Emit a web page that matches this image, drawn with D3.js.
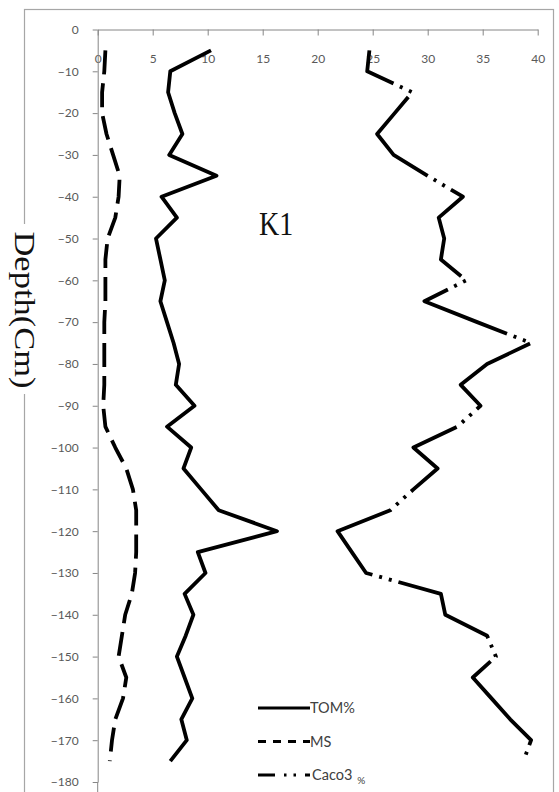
<!DOCTYPE html>
<html>
<head>
<meta charset="utf-8">
<script src="https://cdn.jsdelivr.net/npm/d3@7"></script>
<style>
  body { margin: 0; background: #fff; }
  svg { display: block; }
</style>
</head>
<body>
<svg id="chart"></svg>
<script>
// depth of each sample (cm), shared by all three series
const depths = [-5, -10, -15, -20, -25, -30, -35, -40, -45, -50, -55, -60, -65, -70, -75, -80, -85, -90,
  -95, -100, -105, -110, -115, -120, -125, -130, -135, -140, -145, -150, -155, -160, -165, -170, -175];

const tom = [10.3, 6.6, 6.4, 7.0, 7.7, 6.5, 10.8, 5.8, 7.2, 5.3, 5.7, 6.1, 5.7, 6.3, 6.9, 7.4, 7.1, 8.8,
  6.3, 8.5, 7.8, 9.4, 11.0, 16.3, 9.1, 9.8, 7.9, 8.7, 8.0, 7.2, 7.9, 8.6, 7.6, 8.1, 6.6];

const ms = [0.7, 0.6, 0.4, 0.4, 0.8, 1.4, 2.0, 1.9, 1.6, 0.9, 0.7, 0.7, 0.7, 0.6, 0.6, 0.6, 0.6, 0.5,
  0.7, 1.6, 2.6, 3.2, 3.5, 3.5, 3.5, 3.4, 3.1, 2.5, 2.2, 1.9, 2.6, 2.3, 1.6, 1.3, 1.1];

const caco3 = [24.7, 24.5, 28.6, 27.0, 25.4, 26.9, 30.0, 33.2, 31.0, 31.5, 31.2, 33.5, 29.7, 34.5, 39.4, 35.4, 33.0, 34.8,
  32.7, 28.7, 30.9, 28.7, 26.6, 21.8, 23.1, 24.4, 31.2, 31.6, 35.4, 36.2, 34.1, 35.8, 37.5, 39.4, 38.7];

const xTicks = [0, 5, 10, 15, 20, 25, 30, 35, 40];
const yTicks = [0, -10, -20, -30, -40, -50, -60, -70, -80, -90, -100, -110, -120, -130, -140, -150, -160, -170, -180];

const seriesNames = ["TOM%", "MS", "Caco3"];

const chartSettings = {
  width: 559,
  height: 792,
  axisColor: "#868686",
  labelColor: "#595959",
  lineWidth: 3.8
};

const series = [
  { name: seriesNames[0], values: tom, dash: null, offset: 0, legendDash: null },
  { name: seriesNames[1], values: ms, dash: "24,9", offset: 0, legendDash: "8,7" },
  { name: seriesNames[2], values: caco3, dash: "115,7,3,7,3,7", offset: 65, legendDash: "17,9,2.5,7,2.5,9" }
];

const svg = d3.select("#chart")
  .attr("width", chartSettings.width)
  .attr("height", chartSettings.height);

const x = d3.scaleLinear().domain([0, 40]).range([97.7, 537.7]);
const y = d3.scaleLinear().domain([0, -180]).range([29.5, 782]);

// outer frame (bottom edge sits below the window)
svg.append("rect")
  .attr("x", 24.5).attr("y", 9.5)
  .attr("width", 529).attr("height", 800)
  .attr("fill", "none")
  .attr("stroke", "#a6a6a6")
  .attr("stroke-width", 1.2);

// axis title sits over the frame's left edge
svg.append("rect")
  .attr("x", 12).attr("y", 224)
  .attr("width", 26).attr("height", 170)
  .attr("fill", "#fff");

svg.append("text")
  .attr("transform", "translate(25,310) rotate(90) scale(1.15,1)")
  .attr("text-anchor", "middle")
  .attr("dominant-baseline", "central")
  .style("font-family", "'Liberation Serif', 'Times New Roman', serif")
  .style("font-size", "30px")
  .attr("fill", "#111")
  .text("Depth(Cm)");

// x axis along the top, ticks hanging down
const xAxis = svg.append("g")
  .attr("transform", `translate(0,${y(0)})`)
  .call(d3.axisBottom(x).tickValues(xTicks).tickSize(6).tickSizeOuter(0).tickPadding(19));

// y axis on the left
const yAxis = svg.append("g")
  .attr("transform", `translate(${x(0)},0)`)
  .call(d3.axisLeft(y).tickValues(yTicks).tickSize(5).tickSizeOuter(0).tickPadding(14));

yAxis.append("line")
  .attr("x1", 0).attr("x2", 0)
  .attr("y1", y(-180)).attr("y2", chartSettings.height)
  .attr("stroke", chartSettings.axisColor);

[xAxis, yAxis].forEach(axis => {
  axis.select(".domain").attr("stroke", chartSettings.axisColor);
  axis.selectAll(".tick line").attr("stroke", chartSettings.axisColor);
  axis.selectAll(".tick text")
    .attr("fill", chartSettings.labelColor)
    .style("font-family", "Lato, 'Open Sans', sans-serif")
    .style("font-size", "12px");
});

// lines
const line = d3.line()
  .x(d => x(d.value))
  .y(d => y(d.depth));

svg.append("g")
  .selectAll("path")
  .data(series)
  .join("path")
  .attr("d", s => line(s.values.map((v, i) => ({ depth: depths[i], value: v }))))
  .attr("fill", "none")
  .attr("stroke", "#000")
  .attr("stroke-width", chartSettings.lineWidth)
  .attr("stroke-linejoin", "round")
  .attr("stroke-dasharray", s => s.dash)
  .attr("stroke-dashoffset", s => s.offset);

// site label
svg.append("text")
  .attr("transform", "translate(259,235) scale(1,1.18)")
  .style("font-family", "'Liberation Serif', 'Times New Roman', serif")
  .style("font-size", "28px")
  .attr("fill", "#111")
  .text("K1");

// legend
const legend = svg.append("g")
  .attr("transform", "translate(258,708)");

const legendItem = legend.selectAll("g")
  .data(series)
  .join("g")
  .attr("transform", (d, i) => `translate(0,${i * 33.5})`);

legendItem.append("line")
  .attr("x1", 0).attr("x2", 52)
  .attr("y1", 0).attr("y2", 0)
  .attr("stroke", "#000")
  .attr("stroke-width", 3)
  .attr("stroke-dasharray", d => d.legendDash);

const legendText = legendItem.append("text")
  .attr("x", d => d.name === "Caco3" ? 54 : 52)
  .attr("dy", "0.35em")
  .style("font-family", "Lato, 'Open Sans', sans-serif")
  .style("font-size", "14.5px")
  .attr("fill", "#404040")
  .text(d => d.name);

legendText.filter(d => d.name === "Caco3")
  .append("tspan")
  .attr("dx", 5)
  .attr("dy", 4)
  .style("font-size", "10px")
  .text("%");
</script>
</body>
</html>
